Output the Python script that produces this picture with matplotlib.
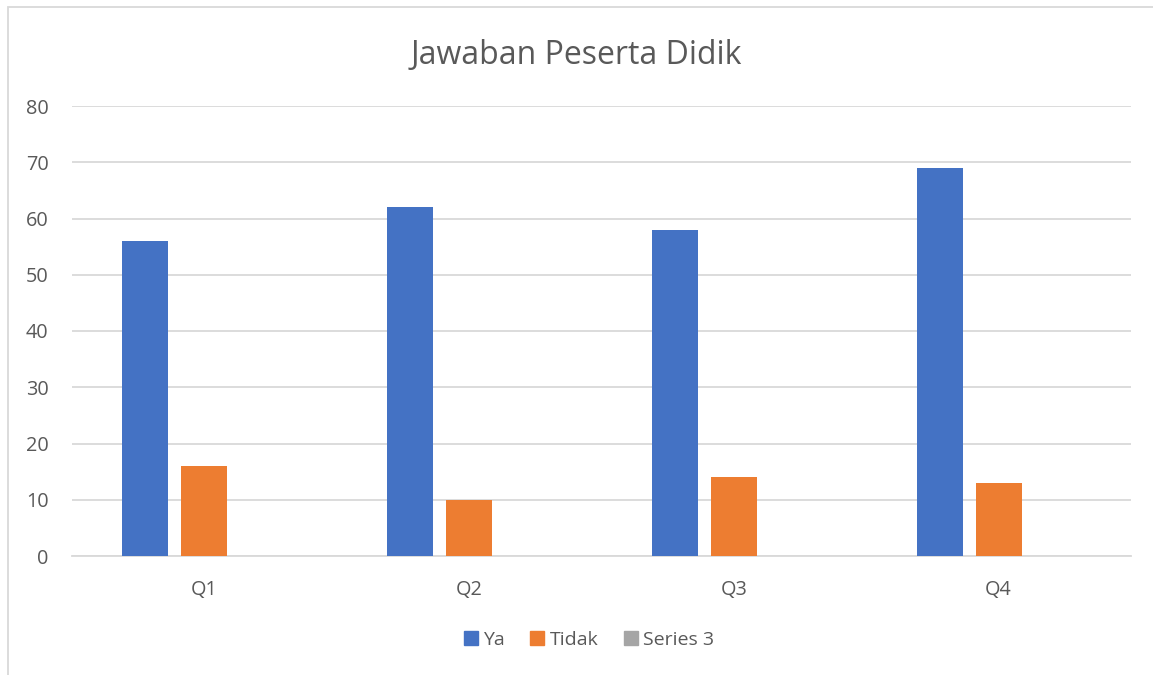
import matplotlib
matplotlib.use("Agg")
import matplotlib.pyplot as plt
from matplotlib.patches import Rectangle
import numpy as np

categories = ["Q1", "Q2", "Q3", "Q4"]
series_names = ["Ya", "Tidak", "Series 3"]
ya = [56, 62, 58, 69]
tidak = [16, 10, 14, 13]
series3 = [0, 0, 0, 0]
yticks = [0, 10, 20, 30, 40, 50, 60, 70, 80]
title = "Jawaban Peserta Didik"

colors = ["#4472C4", "#ED7D31", "#A5A5A5"]
text_color = "#595959"
grid_color = "#D9D9D9"

plt.rcParams['font.family'] = ['Open Sans', 'DejaVu Sans']

fig = plt.figure(figsize=(11.53, 6.75), dpi=100)
ax = fig.add_axes([72/1153, 1-556/675, (1131-72)/1153, (556-106)/675])

# chart border
fig.patches.append(Rectangle((8/1153, -0.1), 1.2, 1 - 7/675 + 0.1, transform=fig.transFigure,
                             fill=False, edgecolor="#D9D9D9", linewidth=1.3))

x = np.arange(len(categories))
width = 46/264.75
step = 59/264.75
data = [ya, tidak, series3]
for i, (vals, name, c) in enumerate(zip(data, series_names, colors)):
    ax.bar(x + (i-1)*step, vals, width=width, color=c, label=name, zorder=3)

ax.set_xlim(-0.5, len(categories)-0.5)
ax.set_ylim(0, 80)
ax.set_yticks(yticks)
ax.set_yticklabels([str(v) for v in yticks])
ax.set_xticks(x)
ax.set_xticklabels(categories)
ax.yaxis.grid(True, color=grid_color, linewidth=1.3, zorder=0)
ax.set_axisbelow(True)
for s in ["top", "right", "left"]:
    ax.spines[s].set_visible(False)
ax.spines["bottom"].set_color(grid_color)
ax.spines["bottom"].set_linewidth(1.3)
ax.tick_params(axis="both", length=0, labelsize=14.3, colors=text_color)
ax.tick_params(axis="y", pad=17)
ax.tick_params(axis="x", pad=17)

fig.text(0.5, 1-63.5/675, title, ha="center", va="baseline", fontsize=23, color=text_color)

handles = [Rectangle((0, 0), 1, 1, color=c) for c in colors]
fig.legend(handles, series_names, loc="center", bbox_to_anchor=(0.511, 1-640/675), ncol=3,
           frameon=False, fontsize=14, labelcolor=text_color, handlelength=0.7, handleheight=0.7,
           handletextpad=0.3, columnspacing=1.3)

fig.savefig("out.png", dpi=100, facecolor="white")
